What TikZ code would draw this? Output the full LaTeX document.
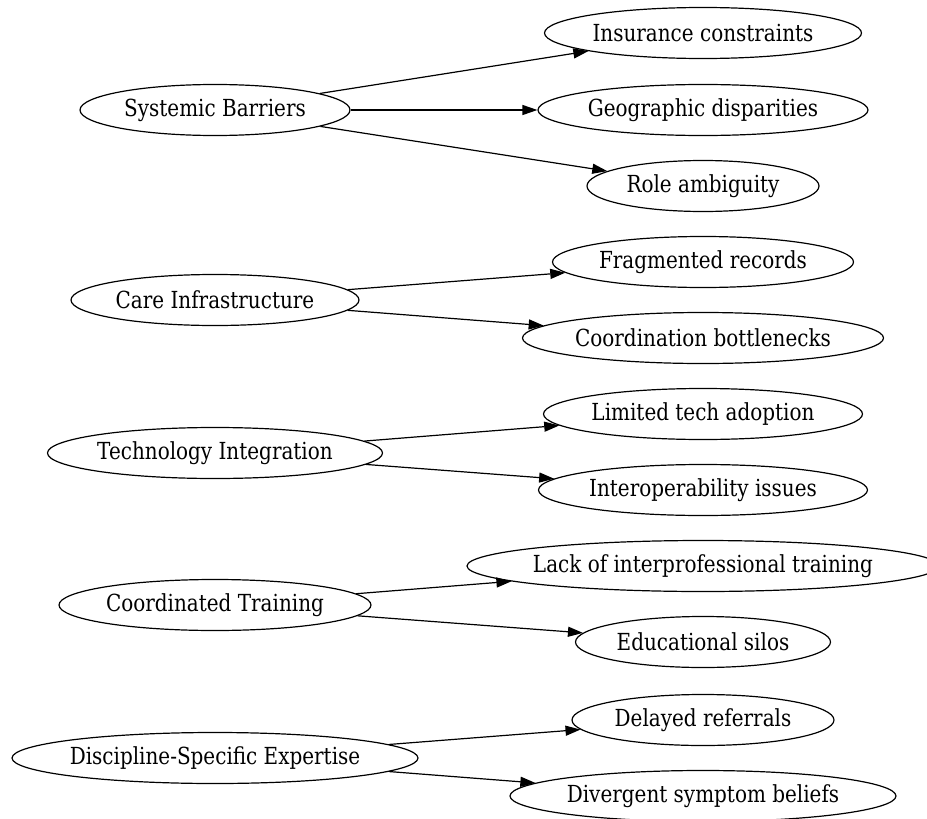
\documentclass[tikz,border=0pt]{standalone}
\usepackage{fontspec}
\setmainfont{DejaVu Serif}[FakeStretch=0.85]
\usetikzlibrary{shapes.geometric,arrows.meta}
\tikzset{
  topic/.style={draw, ellipse, line width=1.2pt, inner xsep=-40pt, inner ysep=0pt,
    minimum height=51pt, font=\fontsize{23.5}{28}\selectfont},
  link/.style={-{Triangle[length=15pt,width=10pt]}, line width=1.2pt}
}
\begin{document}
\begin{tikzpicture}[x=1pt,y=-1pt]
  \useasboundingbox (0,0) rectangle (927,819);
  \clip (0,0) rectangle (927,819);
  % main themes
  \node[topic, minimum width=270pt] (systemic) at (215,110) {Systemic Barriers};
  \node[topic, minimum width=288pt] (care) at (215,300) {Care Infrastructure};
  \node[topic, minimum width=335pt] (tech) at (215,453) {Technology Integration};
  \node[topic, minimum width=312pt] (training) at (215,605) {Coordinated Training};
  \node[topic, minimum width=406pt] (expertise) at (215,758) {Discipline-Specific Expertise};
  % sub-themes
  \node[topic, minimum width=317pt] (insurance) at (703,33) {Insurance constraints};
  \node[topic, minimum width=330pt] (geographic) at (703,110) {Geographic disparities};
  \node[topic, minimum width=232pt] (role) at (703,186) {Role ambiguity};
  \node[topic, minimum width=301pt] (records) at (703,262) {Fragmented records};
  \node[topic, minimum width=361pt] (bottlenecks) at (703,338) {Coordination bottlenecks};
  \node[topic, minimum width=319pt] (adoption) at (703,414) {Limited tech adoption};
  \node[topic, minimum width=329pt] (interop) at (703,490) {Interoperability issues};
  \node[topic, minimum width=472pt] (interprof) at (703,566) {Lack of interprofessional training};
  \node[topic, minimum width=255pt] (silos) at (703,642) {Educational silos};
  \node[topic, minimum width=262pt] (referrals) at (703,720) {Delayed referrals};
  \node[topic, minimum width=386pt] (beliefs) at (703,796) {Divergent symptom beliefs};
  % edges
  \foreach \from/\to in {systemic/insurance, systemic/geographic, systemic/role,
      care/records, care/bottlenecks, tech/adoption, tech/interop,
      training/interprof, training/silos, expertise/referrals, expertise/beliefs}
    \draw[link] (\from) -- (\to);
\end{tikzpicture}
\end{document}
